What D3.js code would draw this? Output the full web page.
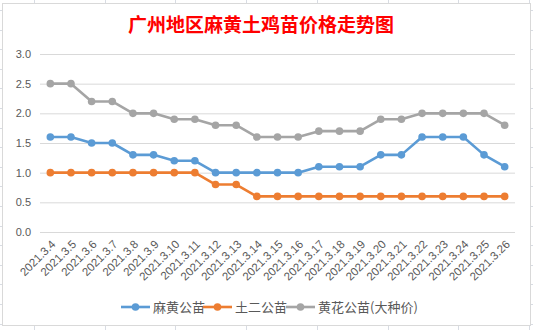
<!DOCTYPE html>
<html><head><meta charset="utf-8">
<script src="https://cdn.jsdelivr.net/npm/d3@7/dist/d3.min.js"></script>
<style>body{margin:0;background:#fff}svg{display:block}</style>
</head><body><svg id="c" width="533" height="330"></svg>
<script>
const dates = ["2021.3.4","2021.3.5","2021.3.6","2021.3.7","2021.3.8","2021.3.9","2021.3.10","2021.3.11","2021.3.12","2021.3.13","2021.3.14","2021.3.15","2021.3.16","2021.3.17","2021.3.18","2021.3.19","2021.3.20","2021.3.21","2021.3.22","2021.3.23","2021.3.24","2021.3.25","2021.3.26"];
const mahuang = [1.6,1.6,1.5,1.5,1.3,1.3,1.2,1.2,1.0,1.0,1.0,1.0,1.0,1.1,1.1,1.1,1.3,1.3,1.6,1.6,1.6,1.3,1.1];
const tuer = [1.0,1.0,1.0,1.0,1.0,1.0,1.0,1.0,0.8,0.8,0.6,0.6,0.6,0.6,0.6,0.6,0.6,0.6,0.6,0.6,0.6,0.6,0.6];
const huanghua = [2.5,2.5,2.2,2.2,2.0,2.0,1.9,1.9,1.8,1.8,1.6,1.6,1.6,1.7,1.7,1.7,1.9,1.9,2.0,2.0,2.0,2.0,1.8];
const yTicks = [0,0.5,1.0,1.5,2.0,2.5,3.0];
const seriesNames = ["麻黄公苗","土二公苗","黄花公苗(大种价)"];
const colors = ["#5B9BD5","#ED7D31","#A5A5A5"];
const title = "广州地区麻黄土鸡苗价格走势图";

const svg = d3.select("#c");
// spreadsheet background grid
const bg = svg.append("g").attr("stroke","#d8dce3").attr("stroke-width",1);
d3.range(34, 533, 70.7).forEach(x=>bg.append("line").attr("x1",Math.round(x)+0.5).attr("x2",Math.round(x)+0.5).attr("y1",0).attr("y2",330));
d3.range(10, 330, 19.6).forEach(y=>bg.append("line").attr("x1",0).attr("x2",533).attr("y1",Math.round(y)+0.5).attr("y2",Math.round(y)+0.5));
// chart area
svg.append("rect").attr("x",2.5).attr("y",3.5).attr("width",528).attr("height",322).attr("fill","#fff").attr("stroke","#d9d9d9");

svg.append("text").attr("x",261).attr("y",32).attr("text-anchor","middle")
  .attr("font-family","'Noto Sans CJK SC'").attr("font-size",19).attr("font-weight","bold")
  .attr("fill","#FF0000").text(title);

const x = d3.scaleBand().domain(dates).range([40,515]);
const y = d3.scaleLinear().domain([0,3]).range([232,54]);

const yAxis = d3.axisLeft(y).tickValues(yTicks).tickFormat(d3.format(".1f")).tickSize(-475).tickPadding(9);
const ga = svg.append("g").attr("transform","translate(40,0)").call(yAxis);
ga.select(".domain").remove();
ga.selectAll(".tick line").attr("stroke","#d9d9d9");
ga.selectAll(".tick text").attr("fill","#595959").attr("font-family","'Liberation Sans', Arial").attr("font-size",11);

const xAxis = d3.axisBottom(x).tickSize(0).tickPadding(0);
const gx = svg.append("g").attr("transform","translate(0,232)").call(xAxis);
gx.select(".domain").remove();
gx.selectAll(".tick text").attr("fill","#595959").attr("font-family","'Liberation Sans', Arial").attr("font-size",11.5)
  .attr("text-anchor","end").attr("dy",0).attr("transform","translate(6,13) rotate(-45)");

const data = [mahuang, tuer, huanghua];
const line = d3.line().x((d,i)=>x(dates[i])+x.bandwidth()/2).y(d=>y(d));
data.forEach((s,k)=>{
  svg.append("path").datum(s).attr("d",line).attr("fill","none").attr("stroke",colors[k]).attr("stroke-width",2.6).attr("stroke-linejoin","round");
  svg.append("g").selectAll("circle").data(s).join("circle")
    .attr("cx",(d,i)=>x(dates[i])+x.bandwidth()/2).attr("cy",d=>y(d)).attr("r",3.8).attr("fill",colors[k]);
});

// legend
const legX = [121, 203, 286];
seriesNames.forEach((n,k)=>{
  const g = svg.append("g").attr("transform",`translate(${legX[k]},307)`);
  g.append("line").attr("x1",0).attr("x2",29).attr("y1",0).attr("y2",0).attr("stroke",colors[k]).attr("stroke-width",2.6);
  g.append("circle").attr("cx",14.5).attr("cy",0).attr("r",3.8).attr("fill",colors[k]);
  g.append("text").attr("x",32).attr("y",5).attr("fill","#595959").attr("font-family","'Noto Sans CJK SC'").attr("font-size",13).text(n);
});
</script></body></html>
